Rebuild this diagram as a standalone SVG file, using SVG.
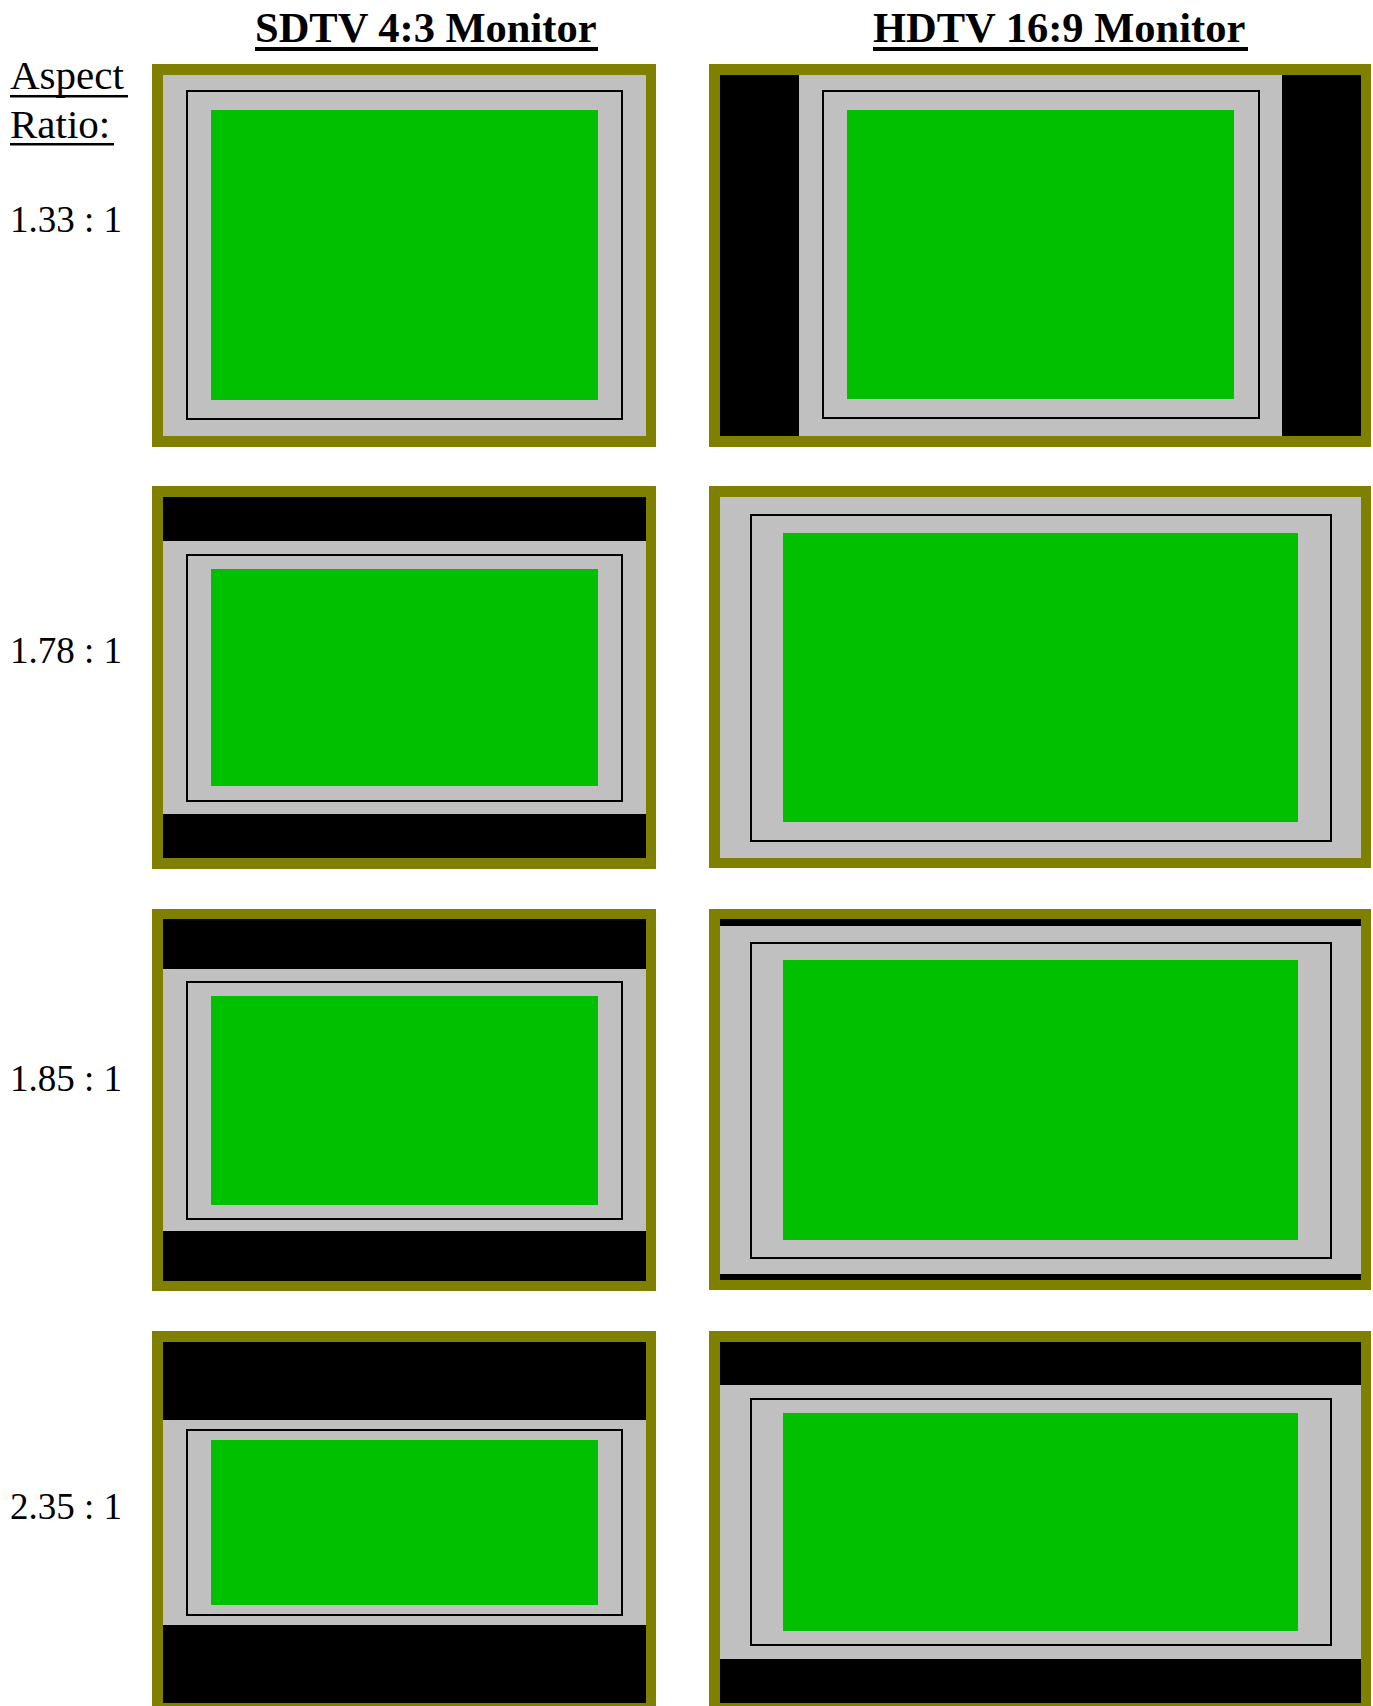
<svg xmlns="http://www.w3.org/2000/svg" width="1373" height="1706" viewBox="0 0 1373 1706">
<style>
.olive{fill:#808000}
.gray{fill:#c0c0c0}
.blk{fill:#000}
.green{fill:#00c000}
.frame{fill:none;stroke:#000;stroke-width:2}
.title{font-family:"Liberation Serif",serif;font-weight:bold;font-size:42.5px;fill:#000}
.lbl{font-family:"Liberation Serif",serif;font-size:41px;fill:#000}
.num{font-family:"Liberation Serif",serif;font-size:37px;fill:#000}
</style>
<rect width="1373" height="1706" fill="#fff"/>
<g id="headers">
<text class="title" x="255" y="42">SDTV 4:3 Monitor</text>
<rect x="255" y="47" width="343" height="4" fill="#000"/>
<text class="title" x="873" y="42">HDTV 16:9 Monitor</text>
<rect x="873" y="47" width="375" height="4" fill="#000"/>
<text class="lbl" x="10" y="89">Aspect</text>
<rect x="10" y="95" width="118" height="2.5" fill="#000"/>
<text class="lbl" x="10" y="138">Ratio:</text>
<rect x="10" y="143" width="104" height="2.5" fill="#000"/>
<text class="num" x="10" y="232">1.33 : 1</text>
<text class="num" x="10" y="663">1.78 : 1</text>
<text class="num" x="10" y="1091">1.85 : 1</text>
<text class="num" x="10" y="1519">2.35 : 1</text>
</g>
<g id="sd-133">
<rect class="olive" x="152" y="64" width="504" height="383"/>
<rect class="gray" x="163" y="75" width="483" height="361"/>
<rect class="frame" x="187" y="91" width="435" height="328"/>
<rect class="green" x="211" y="110" width="387" height="290"/>
</g>
<g id="hd-133">
<rect class="olive" x="709" y="64" width="662" height="383"/>
<rect class="blk" x="720" y="75" width="641" height="361"/>
<rect class="gray" x="799" y="75" width="483" height="361"/>
<rect class="frame" x="823" y="91" width="436" height="327"/>
<rect class="green" x="847" y="110" width="387" height="289"/>
</g>
<g id="sd-178">
<rect class="olive" x="152" y="486" width="504" height="383"/>
<rect class="blk" x="163" y="497" width="483" height="361"/>
<rect class="gray" x="163" y="541" width="483" height="273"/>
<rect class="frame" x="187" y="555" width="435" height="246"/>
<rect class="green" x="211" y="569" width="387" height="217"/>
</g>
<g id="hd-178">
<rect class="olive" x="709" y="486" width="662" height="382"/>
<rect class="gray" x="720" y="497" width="641" height="361"/>
<rect class="frame" x="751" y="515" width="580" height="326"/>
<rect class="green" x="783" y="533" width="515" height="289"/>
</g>
<g id="sd-185">
<rect class="olive" x="152" y="909" width="504" height="382"/>
<rect class="blk" x="163" y="919" width="483" height="362"/>
<rect class="gray" x="163" y="969" width="483" height="262"/>
<rect class="frame" x="187" y="982" width="435" height="237"/>
<rect class="green" x="211" y="996" width="387" height="209"/>
</g>
<g id="hd-185">
<rect class="olive" x="709" y="909" width="662" height="381"/>
<rect class="blk" x="720" y="919" width="641" height="361"/>
<rect class="gray" x="720" y="926" width="641" height="348"/>
<rect class="frame" x="751" y="943" width="580" height="315"/>
<rect class="green" x="783" y="960" width="515" height="280"/>
</g>
<g id="sd-235">
<rect class="olive" x="152" y="1331" width="504" height="383"/>
<rect class="blk" x="163" y="1342" width="483" height="361"/>
<rect class="gray" x="163" y="1420" width="483" height="205"/>
<rect class="frame" x="187" y="1430" width="435" height="185"/>
<rect class="green" x="211" y="1440" width="387" height="165"/>
</g>
<g id="hd-235">
<rect class="olive" x="709" y="1331" width="662" height="383"/>
<rect class="blk" x="720" y="1342" width="641" height="361"/>
<rect class="gray" x="720" y="1385" width="641" height="274"/>
<rect class="frame" x="751" y="1399" width="580" height="246"/>
<rect class="green" x="783" y="1413" width="515" height="218"/>
</g>
<g id="connectors"></g>
</svg>
